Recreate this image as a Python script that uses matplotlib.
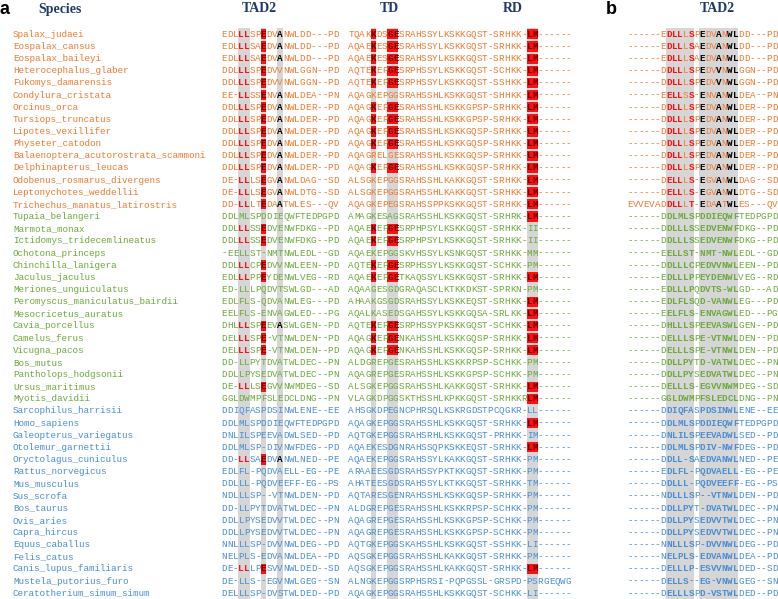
import matplotlib
matplotlib.use('Agg')
import matplotlib.pyplot as plt
from matplotlib.patches import Rectangle

# species and sequences, top to bottom
species = [
    'Spalax_judaei', 'Eospalax_cansus', 'Eospalax_baileyi', 'Heterocephalus_glaber',
    'Fukomys_damarensis', 'Condylura_cristata', 'Orcinus_orca', 'Tursiops_truncatus',
    'Lipotes_vexillifer', 'Physeter_catodon', 'Balaenoptera_acutorostrata_scammoni',
    'Delphinapterus_leucas', 'Odobenus_rosmarus_divergens', 'Leptonychotes_weddellii',
    'Trichechus_manatus_latirostris',
    'Tupaia_belangeri', 'Marmota_monax', 'Ictidomys_tridecemlineatus', 'Ochotona_princeps',
    'Chinchilla_lanigera', 'Jaculus_jaculus', 'Meriones_unguiculatus',
    'Peromyscus_maniculatus_bairdii', 'Mesocricetus_auratus', 'Cavia_porcellus',
    'Camelus_ferus', 'Vicugna_pacos', 'Bos_mutus', 'Pantholops_hodgsonii',
    'Ursus_maritimus', 'Myotis_davidii',
    'Sarcophilus_harrisii', 'Homo_sapiens', 'Galeopterus_variegatus', 'Otolemur_garnettii',
    'Oryctolagus_cuniculus', 'Rattus_norvegicus', 'Mus_musculus', 'Sus_scrofa',
    'Bos_taurus', 'Ovis_aries', 'Capra_hircus', 'Equus_caballus', 'Felis_catus',
    'Canis_lupus_familiaris', 'Mustela_putorius_furo', 'Ceratotherium_simum_simum',
]
group_sizes = [15, 16, 16]   # orange, green, blue

tad2_a = [
    'EDLLLSPEDVANWLDD---PD', 'EDLLLSAEDVANWLDD---PD', 'EDLLLSAEDVANWLDD---PD',
    'DDLLLSPEDVVNWLGGN--PD', 'DDLLLSPEDVVNWLGGN--PD', 'EE-LLSSENVANWLDEA--PN',
    'DDLLLSPEDVANWLDER--PD', 'DDLLLSPEDVANWLDER--PD', 'DDLLLSPEDVANWLDER--PD',
    'DDLLLSPEDVANWLDER--PD', 'DDLLLSPEDVANWLDER--PD', 'DDLLLSPEDVANWLDER--PD',
    'DE-LLLSEGVANWLDAG--SD', 'DE-LLLSEGVANWLDTG--SD', 'DD-LLLTEDAATWLES---QV',
    'DDLMLSPDDIEQWFTEDPGPD', 'DDLLLSSEDVENWFDKG--PD', 'DDLLLSSEDVENWFDKG--PD',
    '-EELLST-NMTNWLEDL--GD', 'DDLLLCPEDVVNWLEEN--PD', 'EDLLLPPEYDENWLVEG--RD',
    'ED-LLLPQDVTSWLGD---AD', 'EDLFLS-QDVANWLEG---PD', 'EELFLS-ENVAGWLED---PG',
    'DHLLLSPEEVASWLGEN--PD', 'DELLLSPE-VTNWLDEN--PD', 'DELLLSPE-VTNWLDEN--PD',
    'DD-LLPYTDVATWLDEC--PN', 'DDLLPYSEDVATWLDEC--PN', 'DE-LLLSEGVVNWMDEG--SD',
    'GGLDWMPFSLEDCLDNG--PN',
    'DDIQFASPDSINWLENE--EE', 'DDLMLSPDDIEQWFTEDPGPD', 'DNLILSPEEVADWLSED--PD',
    'DDLMLSP-DIVNWFDEG--PD', 'DD-LLSAEDVANWLNED--PE', 'EDLFL-PQDVAELL-EG--PE',
    'DDLLL-PQDVEEFF-EG--PS', 'NDLLLSP--VTNWLDEN--PD', 'DD-LLPYTDVATWLDEC--PN',
    'DDLLPYSEDVVTWLDEC--PN', 'DDLLPYSEDVVTWLDEC--PN', 'NNLLLSP-DVVNWLDEG--PD',
    'NELPLS-EDVANWLDEA--PD', 'DE-LLLPESVVNWLDED--SD', 'DE-LLS--EGVNWLGEG--SN',
    'DELLLSP-DVSTWLDED--PD',
]

td_rd = [
    'TQAKKDSGESRAHSSYLKSKKGQST-SRHKK-LM------', 'AQAEKESGESRAHSSYLKSKKGQST-SRHKK-LM------',
    'AQAEKESGESRAHSSYLKSKKGQST-SRHKK-LM------', 'AQTEKEPGESRPHSSYLKSKKGQST-SCHKK-LM------',
    'AQTEKEPGESRPHSSYLKSKKGQST-SSHKK-LM------', 'AQAGKEPGGSRAHSSHLKSKKGQST-SHHKK-LM------',
    'AQAGKEPGESRAHSSHLKSKKGPSP-SRHKK-LM------', 'AQAGKEPGESRAHSSHLKSKKGPSP-SRHKK-LM------',
    'AQAGKEPGESRAHSSHLKSKKGQSP-SRHKK-LM------', 'AQAGKEPGESRAHSSHLKSKKGQSP-SRHKK-LM------',
    'AQAGRELGESRAHSSHLKSKKGQSP-SRHKK-LM------', 'AQAGKEPGESRAHSSHLKSKKGQSP-SRHKK-LM------',
    'ALSGKEPGGSRAHSSHLKAKKGQST-SRHKK-LM------', 'ALSGKEPGGSRAHSSHLKAKKGQST-SRHKK-LM------',
    'AQAGKEPEGSRAHSSPPKSKKGQST-SRHKK-LM------',
    'AMAGKESAGSRAHSSHLKSKKGQST-SRHRK-LM------', 'AQAEKEPGESRPHPSYLKSKKGQST-SRHKK-II------',
    'AQAEKEPGESRPHPSYLKSKKGQST-SRHKK-II------', 'AQAEKEPGGSKVHSSYLKSNKGQST-SRHKK-MM------',
    'AQTEKEPGESRPHSSYLKSKKGQST-SCHKK-PM------', 'AQAEKEPGETKAQSSYLKSKKGQST-SRHKK-LM------',
    'AQAAGESGDGRAQASCLKTKKDKST-SPRKN-PM------', 'AHAAKGSGDSRAHSSYLKSKKEQST-SRHKK-LM------',
    'AQALKASEDSGAHSSYLKSKKGQSA-SRLKK-LM------', 'AQTEKEPGESRPHSSYPKSKKGQST-SCHKK-LM------',
    'AQAGKEPGENKAHSSHLKSKKGQSP-SRHKK-LM------', 'AQAGKEPGENKAHSSHLKSKKGQSP-SRHKK-LM------',
    'ALDGREPGESRAHSSHLKSKKRPSP-SCHKK-PM------', 'AQAGREPGESRAHSSHLKSKKGPSP-SCHKK-PM------',
    'ALSGKEPGGSRAHSSHLKAKKGQST-SRHKK-LM------', 'VLAGKDPGGSKTHSSHLKPKKGQST-SRHKKRLM------',
    'AHSGKDPEGNCPHRSQLKSKRGDSTPCQGKR-LL------', 'AQAGKEPGGSRAHSSHLKSKKGQST-SRHKK-LM------',
    'AQTGKEPGGSRAHSRHLKSKKGQST-PRHKK-IM------', 'AQAEKESDGNRAHSSQPKSKKEQST-SRHKK-LM------',
    'AQAEKEPGGSRAHSSYLKAKKGQST-SRHKK-PM------', 'ARAAEESGDSRAHSSYPKTKKGQST-SRHKK-PM------',
    'AHATEESGDSRAHSSYLKTKKGQST-SRHKK-TM------', 'AQTARESGENRAHSSHLKSKKGQSP-SRHKK-PM------',
    'ALDGREPGESRAHSSHLKSKKRPSP-SCHKK-PM------', 'AQAGREPGESRAHSSHLKSKKGPSP-SCHKK-PM------',
    'AQAGREPGESRAHSSHLKSKKGPSP-SCHKK-PM------', 'AQTGKEPGGSKAHSSHLKSKKGQST-SSHKK-LI------',
    'AQSGKEPGGSRAHSSHLKAKKGQST-SRHKK-PM------', 'AQSGKEPGGSRAHSSHLKAKKGQST-SRHKK-LM------',
    'ALNGKEPGGSRPHSRSI-PQPGSSL-GRSPD-PSRGEQWG', 'AQAGKEPGGSRAHSSHLKSKKGQST-SCHKK-LI------',
]

tad2_b = [
    '------EDLLLSPEDVANWLDD---PD', '------EDLLLSAEDVANWLDD---PD', '------EDLLLSAEDVANWLDD---PD',
    '------DDLLLSPEDVVNWLGGN--PD', '------DDLLLSPEDVVNWLGGN--PD', '------EELLSS-ENVANWLDEA--PN',
    '------DDLLLSPEDVANWLDER--PD', '------DDLLLSPEDVANWLDER--PD', '------DDLLLSPEDVANWLDER--PD',
    '------DDLLLSPEDVANWLDER--PD', '------DDLLLSPEDVANWLDER--PD', '------DDLLLSPEDVANWLDER--PD',
    '------DELLLS-EGVANWLDAG--SD', '------DELLLS-EGVANWLDTG--SD', 'EVVEVADDLLLT-EDAATWLES---QV',
    '------DDLMLSPDDIEQWFTEDPGPD', '------DDLLLSSEDVENWFDKG--PD', '------DDLLLSSEDVENWFDKG--PD',
    '------EELLST-NMT-NWLEDL--GD', '------DDLLLCPEDVVNWLEEN--PD', '------EDLLLPPEYDENWLVEG--RD',
    '------EDLLLPQDVTS-WLGD---AD', '------EDLFLSQD-VANWLEG---PD', '------EELFLS-ENVAGWLED---PG',
    '------DHLLLSPEEVASWLGEN--PD', '------DELLLSPE-VTNWLDEN--PD', '------DELLLSPE-VTNWLDEN--PD',
    '------DDLLPYTD-VATWLDEC--PN', '------DDLLPYSEDVATWLDEC--PN', '------DELLLS-EGVVNWMDEG--SD',
    '------GGLDWMPFSLEDCLDNG--PN',
    '------DDIQFASPDSINWLENE--EE', '------DDLMLSPDDIEQWFTEDPGPD', '------DNLILSPEEVADWLSED--PD',
    '------DDLMLSPDIV-NWFDEG--PD', '------DDLL-SAEDVANWLNED--PE', '------EDLFL-PQDVAELL-EG--PE',
    '------DDLLL-PQDVEEFF-EG--PS', '------NDLLLSP--VTNWLDEN--PD', '------DDLLPYT-DVATWLDEC--PN',
    '------DDLLPYSEDVVTWLDEC--PN', '------DDLLPYSEDVVTWLDEC--PN', '------NNLLLSP-DVVNWLDEG--PD',
    '------NELPLS-EDVANWLDEA--PD', '------DELLLP-ESVVNWLDED--SD', '------DELLS--EG-VNWLGEG--SN',
    '------DELLLSPD-VSTWLDED--PD',
]

# rows (0-based) with marked residues
red_ll_rows = list(range(15)) + [16, 17, 19, 20, 24, 25, 26, 29, 35, 44]
red_e_rows = red_ll_rows
black_a_rows = [0, 1, 2] + list(range(5, 15)) + [24, 35]
red_td_rows = [0, 1, 2, 3, 4, 6, 7, 8, 9, 11, 16, 17, 19, 20, 24, 25, 26]
red_lm_rows = list(range(16)) + [20, 22, 23, 24, 25, 26, 29, 30, 32, 34, 44]

# highlighted columns
tad2_a_cols = [3, 4, 7, 10]
td_cols = [4, 7, 8, 32, 33]
b_cols = [7, 8, 9, 10, 11, 13, 14, 15, 16, 17, 18, 19]

group_colors = ['#f07a30', '#6caa3c', '#4a8ed4']
row_colors = []
for c, n in zip(group_colors, group_sizes):
    row_colors += [c] * n

W, H = 778, 599
cw = 5.57       # char width in px
y0 = 34.3
dy = 12.15
fs = 6.7
mono = 'Liberation Mono'
x_name, x_tad2, x_td, x_b = 13, 221.7, 348.3, 627.0
gray = '#d6d6d6'
red = '#ff1010'
navy = '#1f3a68'

fig = plt.figure(figsize=(W / 100, H / 100), dpi=100)
ax = fig.add_axes([0, 0, 1, 1])
ax.set_xlim(0, W)
ax.set_ylim(H, 0)
ax.axis('off')

n = len(species)
ytop = y0 - dy / 2

# gray column shading
for x0, cols in [(x_tad2, tad2_a_cols), (x_td, td_cols), (x_b, b_cols)]:
    for c in cols:
        ax.add_patch(Rectangle((x0 + c * cw, ytop), cw, H - ytop, color=gray, lw=0, zorder=0))


def put(x0, i, y, ch, color, weight='normal', box=None):
    xc = x0 + (i + 0.5) * cw
    if box:
        ax.add_patch(Rectangle((x0 + i * cw, y - dy / 2 + 1), cw, dy - 2, color=box, lw=0, zorder=1))
    ax.text(xc, y, ch, fontsize=fs, family=mono, color=color, weight=weight,
            ha='center', va='center', zorder=2)


for r in range(n):
    y = y0 + r * dy
    col = row_colors[r]
    ax.text(x_name, y, species[r], fontsize=fs, family=mono, color=col, ha='left', va='center')

    # panel a, TAD2
    for i, ch in enumerate(tad2_a[r]):
        if i in (3, 4) and r in red_ll_rows:
            put(x_tad2, i, y, ch, red, 'bold')
        elif i == 7 and r in red_e_rows:
            put(x_tad2, i, y, ch, '#700000', 'bold', box=red)
        elif i == 10 and r in black_a_rows:
            put(x_tad2, i, y, ch, 'black', 'bold')
        else:
            put(x_tad2, i, y, ch, col)

    # panel a, TD + RD
    for i, ch in enumerate(td_rd[r]):
        if i in (4, 7, 8) and r in red_td_rows:
            put(x_td, i, y, ch, '#700000', 'bold', box=red)
        elif i in (32, 33) and r in red_lm_rows:
            put(x_td, i, y, ch, '#700000', 'bold', box=red)
        else:
            put(x_td, i, y, ch, col)

    # panel b, TAD2
    for i, ch in enumerate(tad2_b[r]):
        if r < group_sizes[0] and i in (7, 8, 9, 11):
            put(x_b, i, y, ch, red, 'bold')
        elif r < group_sizes[0] and i in (13, 16, 18, 19):
            put(x_b, i, y, ch, 'black', 'bold')
        elif r >= group_sizes[0] and i in b_cols:
            put(x_b, i, y, ch, col, 'bold')
        else:
            put(x_b, i, y, ch, col)

# headers
hy = 9
for label, x in [('Species', 60), ('TAD2', 259), ('TD', 389), ('RD', 513), ('TAD2', 717)]:
    ax.text(x, hy, label, fontsize=10, family='Liberation Serif', weight='bold',
            color=navy, ha='center', va='center')
ax.text(5, hy, 'a', fontsize=13, family='Liberation Sans', weight='bold', ha='center', va='center')
ax.text(611, hy, 'b', fontsize=13, family='Liberation Sans', weight='bold', ha='center', va='center')

fig.savefig('out.png', dpi=100)
